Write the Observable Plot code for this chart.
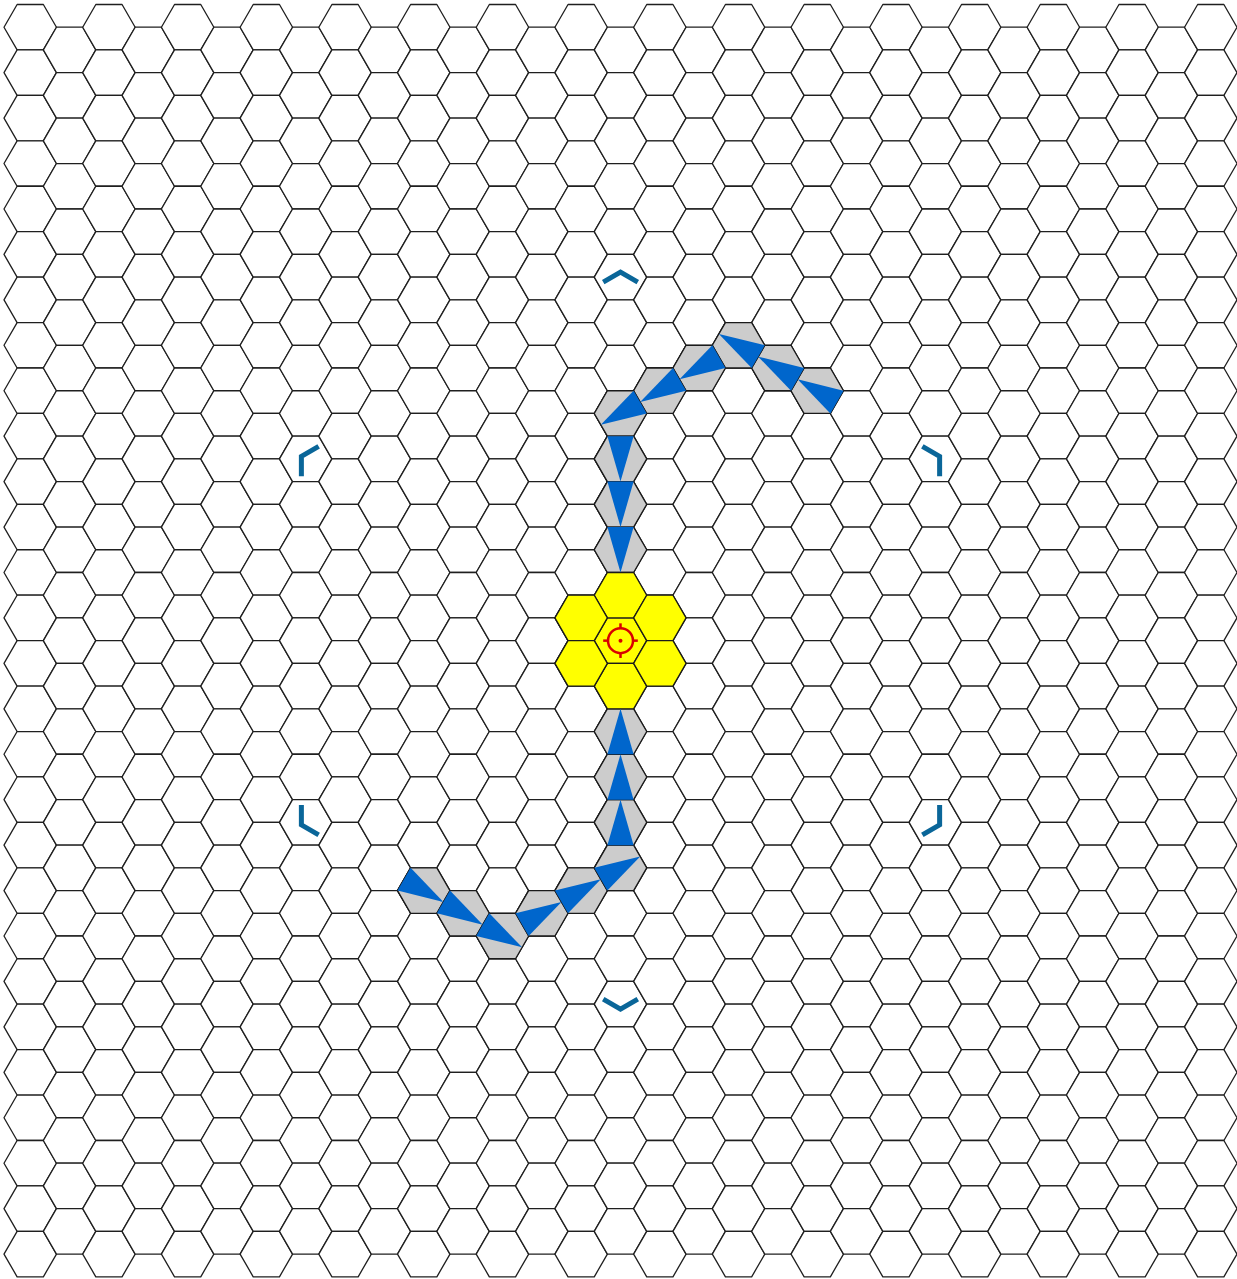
<!DOCTYPE html>
<html>
<head>
<meta charset="utf-8">
<script src="https://cdn.jsdelivr.net/npm/d3@7"></script>
<script src="https://cdn.jsdelivr.net/npm/@observablehq/plot@0.6"></script>
<style>
  html, body { margin: 0; padding: 0; background: #fff; overflow: hidden; }
  #chart svg { display: block; }
</style>
</head>
<body>
<div id="chart"></div>
<script>
// ---- Data (hex grid, flat-top, odd columns shifted down) ----
const gridColumns = 31;
const rowsInEvenColumns = 28;
const rowsInOddColumns = 27;

const targetCol = 15;
const targetRow = 13;

// yellow zone: target cell and its six neighbours
const zoneCols = [15, 15, 15, 14, 14, 16, 16];
const zoneRows = [13, 12, 14, 13, 14, 13, 14];

// upper path (start -> target), direction of travel into each cell
const pathACols = [20, 19, 18, 17, 16, 15, 15, 15, 15];
const pathARows = [8, 7, 7, 7, 8, 8, 9, 10, 11];
const pathADirs = ["NW", "NW", "NW", "SW", "SW", "SW", "S", "S", "S"];

// lower path
const pathBCols = [10, 11, 12, 13, 14, 15, 15, 15, 15];
const pathBRows = [19, 19, 20, 19, 19, 18, 17, 16, 15];
const pathBDirs = ["SE", "SE", "SE", "NE", "NE", "NE", "N", "N", "N"];

// direction markers (chevrons)
const markerCols = [15, 23, 23, 15, 7, 7];
const markerRows = [5, 9, 17, 21, 17, 9];
const markerDirs = ["N", "NE", "SE", "S", "SW", "NW"];

// ---- Geometry helpers (world units: hex radius = 1, y downward) ----
const SQ3 = Math.sqrt(3);
const dirAngle = {N: -90, NE: -30, SE: 30, S: 90, SW: 150, NW: 210};
const rad = d => d * Math.PI / 180;
function center(col, row) {
  return [1.5 * col, SQ3 * (row + (col % 2) / 2)];
}
function hexVerts(col, row, id) {
  const [cx, cy] = center(col, row);
  return d3.range(6).map(i => ({id, x: cx + Math.cos(rad(60 * i)), y: cy + Math.sin(rad(60 * i))}));
}

// grid cells
const grid = [];
for (let c = 0; c < gridColumns; c++) {
  const n = c % 2 === 0 ? rowsInEvenColumns : rowsInOddColumns;
  for (let r = 0; r < n; r++) grid.push(...hexVerts(c, r, `g${c}-${r}`));
}

const pathCells = [];
const triangles = [];
function addPath(cols, rows, dirs, tag) {
  cols.forEach((c, i) => {
    const r = rows[i];
    pathCells.push(...hexVerts(c, r, `${tag}${i}`));
    const [cx, cy] = center(c, r);
    const t = dirAngle[dirs[i]];
    const apexD = SQ3 / 2;
    triangles.push(
      {id: `${tag}${i}`, x: cx + Math.cos(rad(t + 150)), y: cy + Math.sin(rad(t + 150))},
      {id: `${tag}${i}`, x: cx + apexD * Math.cos(rad(t)), y: cy + apexD * Math.sin(rad(t))},
      {id: `${tag}${i}`, x: cx + Math.cos(rad(t + 210)), y: cy + Math.sin(rad(t + 210))}
    );
  });
}
addPath(pathACols, pathARows, pathADirs, "a");
addPath(pathBCols, pathBRows, pathBDirs, "b");

const zoneCells = [];
zoneCols.forEach((c, i) => zoneCells.push(...hexVerts(c, zoneRows[i], `z${i}`)));

const chevrons = [];
markerCols.forEach((c, i) => {
  const [cx, cy] = center(c, markerRows[i]);
  const t = dirAngle[markerDirs[i]];
  const ax = cx + 0.19 * Math.cos(rad(t)), ay = cy + 0.19 * Math.sin(rad(t));
  const L = 0.76;
  chevrons.push(
    {id: i, x: ax + L * Math.cos(rad(t + 120)), y: ay + L * Math.sin(rad(t + 120))},
    {id: i, x: ax, y: ay},
    {id: i, x: ax + L * Math.cos(rad(t + 240)), y: ay + L * Math.sin(rad(t + 240))}
  );
});

const [tx, ty] = center(targetCol, targetRow);
const target = [{x: tx, y: ty}];
const tickIn = 0.44, tickOut = 0.66;
const ticks = [0, 90, 180, 270].map(a => ({
  x1: tx + tickIn * Math.cos(rad(a)), y1: ty + tickIn * Math.sin(rad(a)),
  x2: tx + tickOut * Math.cos(rad(a)), y2: ty + tickOut * Math.sin(rad(a))
}));

const RED = "#d90000";

const chart = Plot.plot({
  width: 1237,
  height: 1279,
  marginLeft: 3.5,
  marginRight: 0.5,
  marginTop: 4,
  marginBottom: 2.7,
  x: {domain: [-1, 46], axis: null},
  y: {domain: [-SQ3 / 2, SQ3 * 27.5], reverse: true, axis: null},
  marks: [
    Plot.line(grid, {x: "x", y: "y", z: "id", curve: "linear-closed", fill: "white", stroke: "#1f1f1f", strokeWidth: 1.3}),
    Plot.line(pathCells, {x: "x", y: "y", z: "id", curve: "linear-closed", fill: "#cccccc", stroke: "#1a1a1a", strokeWidth: 1.3}),
    Plot.line(zoneCells, {x: "x", y: "y", z: "id", curve: "linear-closed", fill: "#ffff00", stroke: "#1a1a1a", strokeWidth: 1.3}),
    Plot.line(triangles, {x: "x", y: "y", z: "id", curve: "linear-closed", fill: "#0066cc", stroke: "none"}),
    Plot.line(chevrons, {x: "x", y: "y", z: "id", stroke: "#0a6699", strokeWidth: 5, strokeLinejoin: "miter", strokeLinecap: "butt", strokeMiterlimit: 4}),
    Plot.dot(target, {x: "x", y: "y", r: 12.5, stroke: RED, strokeWidth: 2.5, fill: "none"}),
    Plot.link(ticks, {x1: "x1", y1: "y1", x2: "x2", y2: "y2", stroke: RED, strokeWidth: 2.5}),
    Plot.dot(target, {x: "x", y: "y", r: 2, fill: RED, stroke: "none"})
  ]
});
document.getElementById("chart").appendChild(chart);
</script>
</body>
</html>
